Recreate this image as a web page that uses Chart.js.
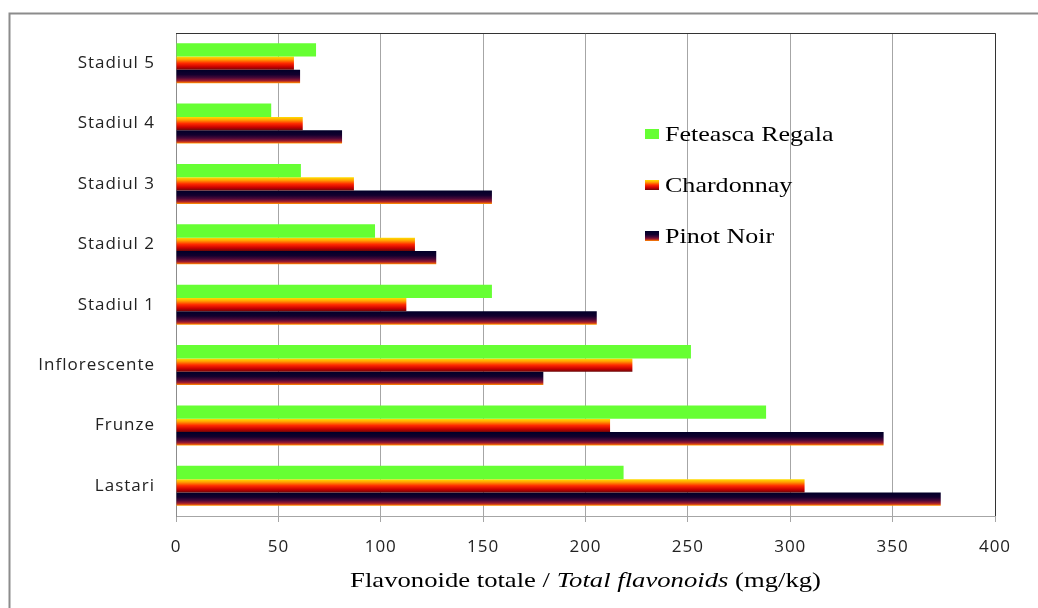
<!DOCTYPE html>
<html>
<head>
<meta charset="utf-8">
<script src="https://cdn.jsdelivr.net/npm/chart.js@4.4.1/dist/chart.umd.min.js"></script>
<style>
  html, body { margin: 0; padding: 0; background: #ffffff; }
  #wrap { width: 1038px; height: 608px; position: relative; }
</style>
</head>
<body>
<div id="wrap"><canvas id="chart" width="1038" height="608"></canvas></div>
<script>
// Total flavonoid content per plant organ / growth stage
const categories = ['Stadiul 5', 'Stadiul 4', 'Stadiul 3', 'Stadiul 2', 'Stadiul 1', 'Inflorescente', 'Frunze', 'Lastari'];
const seriesNames = ['Feteasca Regala', 'Chardonnay', 'Pinot Noir'];
const feteascaRegala = [68.4, 46.5, 61.0, 97.2, 154.3, 251.5, 288.2, 218.6];
const chardonnay = [57.6, 61.9, 86.9, 116.7, 112.5, 222.9, 212.0, 307.0];
const pinotNoir = [60.6, 81.1, 154.3, 127.1, 205.5, 179.4, 345.6, 373.5];
const xTicks = [0, 50, 100, 150, 200, 250, 300, 350, 400];

const AREA = { left: 176, top: 33, right: 995, bottom: 516 };

// vertical colour ramps used to fill each bar (top -> bottom)
const ramps = [
  null,
  [[0, '#ffe000'], [0.22, '#ffa200'], [0.5, '#ff2a00'], [0.78, '#c80000'], [1, '#6a0808']],
  [[0, '#000028'], [0.35, '#12002e'], [0.6, '#4a0838'], [0.8, '#9a1a30'], [0.92, '#e05010'], [1, '#ffa000']]
];
const solid = ['#66ff33', '#ff6a00', '#1a0030'];

function rampGradient(ctx, stops, y0, y1) {
  const g = ctx.createLinearGradient(0, y0, 0, y1);
  stops.forEach(s => g.addColorStop(s[0], s[1]));
  return g;
}

// draws text stretched horizontally by sx, anchored at its left edge
function wideText(ctx, text, x, y, sx) {
  ctx.save();
  ctx.translate(x, y);
  ctx.scale(sx, 1);
  ctx.fillText(text, 0, 0);
  ctx.restore();
}

// replaces each bar's fill with a gradient spanning that bar's own height
const barGradients = {
  id: 'barGradients',
  beforeDatasetsDraw(chart) {
    const ctx = chart.ctx;
    chart.data.datasets.forEach((ds, di) => {
      const stops = ramps[di];
      if (!stops) return;
      chart.getDatasetMeta(di).data.forEach(el => {
        const top = el.y - el.height / 2;
        el.options.backgroundColor = rampGradient(ctx, stops, top, top + el.height);
      });
    });
  }
};

// outer frame, plot border, legend and axis title
const decorations = {
  id: 'decorations',
  beforeDraw(chart) {
    const ctx = chart.ctx;
    ctx.save();
    ctx.fillStyle = '#ffffff';
    ctx.fillRect(0, 0, chart.width, chart.height);
    ctx.strokeStyle = '#8c8c8c';
    ctx.lineWidth = 2;
    ctx.beginPath();
    ctx.moveTo(9.5, chart.height);
    ctx.lineTo(9.5, 13.5);
    ctx.lineTo(chart.width, 13.5);
    ctx.stroke();
    ctx.restore();
    // slightly tracked-out tick labels
    ctx.letterSpacing = '1px';
  },
  afterDraw(chart) {
    const ctx = chart.ctx;
    const a = chart.chartArea;
    ctx.save();
    ctx.letterSpacing = '0px';
    // dark top and right edges of the plot area
    ctx.strokeStyle = '#333333';
    ctx.lineWidth = 1;
    ctx.beginPath();
    ctx.moveTo(a.left, a.top + 0.5);
    ctx.lineTo(a.right + 0.5, a.top + 0.5);
    ctx.lineTo(a.right + 0.5, a.bottom);
    ctx.stroke();

    // legend
    const lx = 645, ly = [134, 185, 236];
    ctx.font = '21px "Liberation Serif", "Times New Roman", serif';
    ctx.textBaseline = 'middle';
    ctx.textAlign = 'left';
    seriesNames.forEach((name, i) => {
      const y0 = ly[i] - 5;
      ctx.fillStyle = ramps[i] ? rampGradient(ctx, ramps[i], y0, y0 + 10) : solid[i];
      ctx.fillRect(lx, y0, 14, 10);
      ctx.fillStyle = '#000000';
      wideText(ctx, name, lx + 20, ly[i] + 1, 1.24);
    });

    // x axis title: plain + italic + plain segments
    const parts = [
      ['Flavonoide totale / ', ''],
      ['Total flavonoids', 'italic '],
      [' (mg/kg)', '']
    ];
    const fam = '21px "Liberation Serif", "Times New Roman", serif';
    const sx = 1.27;
    let total = 0;
    parts.forEach(p => { ctx.font = p[1] + fam; total += ctx.measureText(p[0]).width * sx; });
    let x = (AREA.left + AREA.right) / 2 - total / 2;
    ctx.fillStyle = '#000000';
    ctx.textBaseline = 'alphabetic';
    parts.forEach(p => {
      ctx.font = p[1] + fam;
      wideText(ctx, p[0], x, 587, sx);
      x += ctx.measureText(p[0]).width * sx;
    });
    ctx.restore();
  }
};

new Chart(document.getElementById('chart'), {
  type: 'bar',
  data: {
    labels: categories,
    datasets: [
      { label: seriesNames[0], data: feteascaRegala, backgroundColor: () => solid[0] },
      { label: seriesNames[1], data: chardonnay, backgroundColor: () => solid[1] },
      { label: seriesNames[2], data: pinotNoir, backgroundColor: () => solid[2] }
    ]
  },
  options: {
    indexAxis: 'y',
    responsive: false,
    animation: false,
    devicePixelRatio: 1,
    layout: { padding: { left: 0, top: AREA.top, right: 1038 - AREA.right, bottom: 0 } },
    datasets: { bar: { categoryPercentage: 0.662, barPercentage: 1.0, borderWidth: 0 } },
    plugins: {
      legend: { display: false },
      tooltip: { enabled: false },
      title: { display: false }
    },
    scales: {
      x: {
        type: 'linear',
        min: 0,
        max: 400,
        afterBuildTicks(scale) { scale.ticks = xTicks.map(v => ({ value: v })); },
        afterFit(scale) { scale.height = 608 - AREA.bottom; },
        grid: { color: '#a6a6a6', lineWidth: 1, drawTicks: true, tickLength: 6, tickColor: '#a6a6a6' },
        border: { display: true, color: '#a6a6a6', width: 1 },
        ticks: {
          color: '#222222',
          padding: 15,
          font: { family: '"Open Sans", sans-serif', size: 17 }
        }
      },
      y: {
        type: 'category',
        afterFit(scale) { scale.width = AREA.left; },
        grid: { display: false, drawTicks: false },
        border: { display: true, color: '#8c8c8c', width: 1 },
        ticks: {
          color: '#222222',
          padding: 21,
          font: { family: '"Open Sans", sans-serif', size: 17 }
        }
      }
    }
  },
  plugins: [decorations, barGradients]
});
</script>
</body>
</html>
